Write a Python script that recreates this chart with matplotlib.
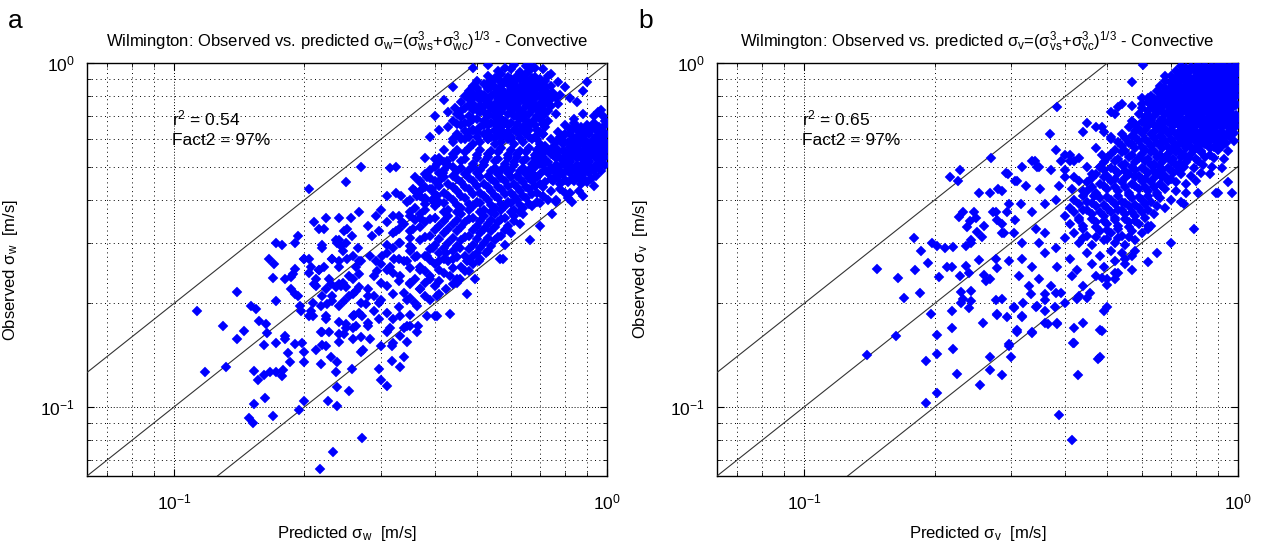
import matplotlib
matplotlib.use("Agg")
import matplotlib.pyplot as plt
import numpy as np
from matplotlib.ticker import FixedLocator, NullFormatter, LogLocator

plt.rcParams["font.family"] = ["Liberation Sans Narrow", "Liberation Sans", "DejaVu Sans"]
plt.rcParams["mathtext.fontset"] = "custom"
plt.rcParams["mathtext.rm"] = "Liberation Sans"
plt.rcParams["mathtext.it"] = "Liberation Sans:italic"
plt.rcParams["mathtext.default"] = "regular"

# (predicted, observed) pairs in m/s
# panel a: sigma_w
A_SPARSE = [
    (.205, .43), (.25, .45), (.113, .19), (.14, .216), (.13, .172), (.14, .158), (.145, .166), (.118, .126),
    (.132, .131), (.151, .197), (.155, .193), (.157, .178), (.163, .174), (.161, .151), (.164, .164), (.172, .154),
    (.172, .203), (.169, .237), (.166, .27), (.17, .26), (.172, .30), (.178, .296), (.153, .127), (.156, .12),
    (.161, .124), (.167, .126), (.172, .126), (.178, .123), (.179, .128), (.162, .106), (.153, .102), (.149, .093),
    (.152, .09), (.169, .094), (.18, .161), (.18, .158), (.183, .144), (.185, .135), (.19, .152), (.198, .154),
    (.2, .145), (.2, .135), (.2, .104), (.194, .098), (.18, .236), (.186, .239), (.188, .243), (.186, .22),
    (.19, .213), (.193, .21), (.195, .197), (.196, .19), (.19, .252), (.193, .315), (.19, .30), (.2, .27),
    (.205, .27), (.207, .256), (.205, .246), (.213, .236), (.216, .25), (.222, .255), (.22, .29), (.222, .33),
    (.241, .355), (.251, .33), (.256, .355), (.258, .315), (.241, .305), (.238, .30), (.243, .293), (.245, .285),
    (.232, .27), (.241, .265), (.251, .27), (.263, .256), (.27, .265), (.268, .243), (.259, .236), (.241, .228),
    (.237, .223), (.243, .225), (.25, .223), (.231, .228), (.224, .22), (.22, .21), (.226, .199), (.232, .203),
    (.247, .203), (.259, .213), (.263, .217), (.268, .223), (.277, .199), (.272, .184), (.263, .172), (.25, .174),
    (.241, .163), (.247, .163), (.259, .158), (.228, .165), (.224, .18), (.218, .165), (.22, .151), (.224, .15),
    (.213, .146), (.218, .133), (.231, .14), (.238, .135), (.237, .126), (.258, .129), (.238, .114), (.254, .111),
    (.227, .104), (.238, .101), (.27, .145), (.273, .146), (.272, .081), (.233, .074), (.217, .066), (.209, .184),
    (.207, .19), (.21, .228), (.218, .197), (.30, .12), (.31, .115), (.297, .129), (.332, .131), (.34, .14),
    (.318, .136), (.404, .184), (.433, .186), (.366, .172), (.345, .155), (.318, .15),
    (.27, .50), (.315, .495), (.326, .50), (.38, .53), (.40, .525), (.404, .51), (.31, .41), (.326, .42),
    (.335, .41), (.345, .395), (.356, .43), (.363, .41), (.37, .455), (.36, .465), (.384, .465), (.373, .43),
    (.394, .43), (.38, .40), (.394, .40), (.404, .41), (.41, .455), (.417, .48), (.426, .52), (.44, .50),
    (.45, .56), (.44, .60), (.46, .60), (.48, .63), (.445, .74), (.49, .85), (.49, .79), (.293, .36),
    (.30, .375), (.31, .345), (.32, .36), (.28, .335), (.268, .37), (.286, .315), (.298, .325), (.326, .325),
    (.336, .345), (.35, .36), (.356, .33), (.37, .355), (.332, .30), (.31, .295), (.21, .345), (.237, .305),
    (.247, .325), (.224, .355), (.216, .33), (.22, .295), (.20, .27), (.232, .27), (.25, .30), (.259, .275),
    (.266, .29), (.268, .265), (.283, .275), (.293, .265), (.302, .275), (.295, .248), (.315, .256), (.322, .27),
    (.332, .24), (.345, .265), (.354, .29), (.363, .275), (.37, .25), (.384, .275), (.396, .29), (.41, .265),
    (.425, .28), (.44, .27), (.457, .29), (.475, .265), (.49, .275), (.433, .24), (.457, .236), (.48, .248),
    (.505, .265), (.525, .28), (.565, .27), (.35, .23), (.37, .22), (.39, .236), (.404, .21), (.425, .22),
    (.45, .23), (.475, .213), (.495, .236), (.345, .205), (.363, .197), (.332, .184), (.35, .172), (.363, .165),
    (.384, .184), (.40, .184), (.31, .188), (.298, .20), (.28, .21), (.268, .188), (.254, .21), (.245, .23),
    (.254, .24), (.241, .256), (.228, .236), (.216, .25), (.213, .225), (.232, .21), (.241, .197), (.224, .184),
    (.241, .177), (.259, .184), (.28, .172), (.298, .18), (.315, .17), (.332, .161), (.259, .17), (.22, .165),
    (.283, .158), (.32, .154), (.345, .172), (.205, .184), (.209, .20),
    (.663, .305), (.575, .27), (.70, .335), (.745, .364), (.76, .395), (.88, .41), (.93, .44), (.83, .395),
    (.90, .88), (.95, .72), (.98, .70), (.85, .77), (.88, .83), (.663, .99),
]

A_MID = [
    (.42, .56), (.45, .555), (.48, .565), (.51, .56), (.54, .555), (.57, .565), (.60, .56), (.63, .555), (.66, .565), (.69, .56), (.72, .555),
    (.41, .53), (.44, .535), (.47, .525), (.50, .53), (.53, .535), (.56, .525), (.59, .53), (.62, .535), (.65, .525), (.68, .53),
    (.40, .50), (.43, .505), (.46, .495), (.49, .50), (.52, .505), (.55, .495), (.58, .50), (.61, .505), (.64, .495),
    (.38, .475), (.41, .48), (.44, .47), (.47, .475), (.50, .48), (.53, .47), (.56, .475), (.59, .48), (.62, .47), (.65, .475), (.67, .48),
    (.37, .45), (.40, .455), (.43, .445), (.46, .45), (.49, .455), (.52, .445), (.55, .45), (.58, .455), (.61, .445), (.64, .45), (.67, .455), (.70, .445),
    (.36, .425), (.39, .43), (.42, .42), (.45, .425), (.48, .43), (.51, .42), (.54, .425), (.57, .43), (.60, .42), (.63, .425), (.66, .43), (.69, .42),
    (.35, .40), (.38, .405), (.41, .395), (.44, .40), (.47, .405), (.50, .395), (.53, .40), (.56, .405), (.59, .395), (.62, .40), (.65, .405), (.69, .395), (.73, .40),
    (.36, .38), (.40, .385), (.43, .375), (.46, .38), (.49, .385), (.52, .375), (.55, .38), (.58, .385), (.61, .375), (.64, .38), (.67, .385),
    (.33, .36), (.37, .365), (.40, .355), (.43, .36), (.46, .365), (.49, .355), (.52, .36), (.55, .365), (.58, .355), (.61, .36), (.64, .365),
    (.34, .34), (.38, .345), (.41, .335), (.44, .34), (.47, .345), (.50, .335), (.53, .34), (.56, .345), (.59, .335), (.63, .34),
    (.32, .32), (.35, .325), (.39, .315), (.42, .32), (.45, .325), (.48, .315), (.51, .32), (.54, .325), (.57, .315), (.60, .32),
    (.33, .30), (.37, .305), (.40, .295), (.43, .30), (.46, .305), (.49, .295), (.52, .30), (.55, .305), (.58, .295),
    (.31, .28), (.35, .285), (.38, .275), (.41, .28), (.44, .285), (.47, .275), (.50, .28), (.53, .285),
    (.30, .26), (.34, .265), (.37, .255), (.40, .26), (.43, .265), (.46, .255), (.49, .26),
    (.29, .24), (.32, .245), (.36, .235), (.39, .24), (.42, .245), (.45, .235),
    (.28, .22), (.31, .225), (.34, .215), (.37, .22), (.40, .225),
    (.27, .20), (.30, .205), (.33, .195), (.36, .20), (.39, .205),
    (.26, .185), (.29, .19), (.32, .18), (.35, .185),
    (.25, .17), (.28, .175), (.31, .165), (.34, .17),
    (.24, .155), (.27, .16), (.30, .15),
]

A_MID_FILL = [
    (.44, .545), (.47, .55), (.50, .54), (.53, .545), (.56, .55), (.59, .54), (.62, .545), (.65, .55), (.68, .54),
    (.42, .515), (.46, .52), (.49, .51), (.52, .515), (.55, .52), (.58, .51), (.61, .515), (.64, .52), (.67, .51),
    (.39, .488), (.42, .49), (.45, .485), (.48, .488), (.51, .49), (.54, .485), (.57, .488), (.60, .49), (.63, .485), (.66, .488),
    (.39, .462), (.42, .465), (.45, .46), (.48, .462), (.51, .465), (.54, .46), (.57, .462), (.60, .465), (.63, .46), (.66, .462), (.69, .465),
    (.38, .437), (.41, .44), (.44, .435), (.47, .437), (.50, .44), (.53, .435), (.56, .437), (.59, .44), (.62, .435), (.65, .437), (.68, .44), (.71, .435),
    (.37, .412), (.40, .415), (.43, .41), (.46, .412), (.49, .415), (.52, .41), (.55, .412), (.58, .415), (.61, .41), (.64, .412), (.67, .415), (.71, .41),
    (.38, .39), (.42, .393), (.45, .388), (.48, .39), (.51, .393), (.54, .388), (.57, .39), (.60, .393), (.63, .388), (.66, .39), (.70, .393),
    (.35, .37), (.38, .373), (.42, .368), (.45, .37), (.48, .373), (.51, .368), (.54, .37), (.57, .373), (.60, .368), (.63, .37),
    (.36, .35), (.39, .353), (.42, .348), (.45, .35), (.48, .353), (.51, .348), (.54, .35), (.57, .353), (.61, .348),
    (.33, .33), (.37, .333), (.40, .328), (.43, .33), (.46, .333), (.49, .328), (.52, .33), (.55, .333), (.58, .328),
    (.35, .31), (.38, .313), (.41, .308), (.44, .31), (.47, .313), (.50, .308), (.53, .31), (.56, .313),
    (.32, .29), (.35, .293), (.39, .288), (.42, .29), (.45, .293), (.48, .288), (.51, .29), (.54, .293),
    (.33, .27), (.36, .273), (.39, .268), (.42, .27), (.45, .273), (.48, .268), (.51, .27),
    (.31, .25), (.35, .253), (.38, .248), (.41, .25), (.44, .253), (.47, .248),
    (.30, .23), (.33, .233), (.35, .228), (.38, .23), (.41, .233), (.44, .228),
    (.29, .21), (.32, .213), (.35, .208), (.38, .21), (.41, .213),
]

A_BLOB = [
    (.56, .95), (.60, .96), (.63, .94), (.66, .95), (.71, .96), (.58, .97), (.68, .97),
    (.53, .92), (.57, .93), (.59, .91), (.62, .92), (.65, .93), (.68, .91), (.73, .92),
    (.50, .89), (.54, .88), (.56, .90), (.58, .89), (.61, .88), (.63, .90), (.66, .89), (.69, .88), (.72, .89),
    (.49, .86), (.52, .87), (.55, .85), (.57, .86), (.59, .87), (.62, .85), (.64, .86), (.67, .87), (.70, .85), (.74, .86),
    (.48, .83), (.51, .82), (.53, .84), (.56, .83), (.58, .82), (.60, .84), (.62, .83), (.65, .82), (.68, .84), (.71, .83), (.75, .82),
    (.47, .80), (.50, .81), (.52, .79), (.54, .80), (.57, .81), (.59, .79), (.61, .80), (.63, .81), (.66, .79), (.69, .80), (.72, .81), (.76, .79),
    (.46, .77), (.49, .76), (.51, .78), (.53, .77), (.55, .76), (.58, .78), (.60, .77), (.62, .76), (.64, .78), (.67, .77), (.70, .76), (.73, .78), (.77, .76),
    (.47, .74), (.50, .73), (.52, .75), (.54, .74), (.56, .73), (.58, .75), (.61, .74), (.63, .73), (.65, .75), (.68, .74), (.71, .73), (.74, .75),
    (.45, .71), (.48, .70), (.51, .72), (.53, .71), (.55, .70), (.57, .72), (.59, .71), (.62, .70), (.64, .72), (.66, .71), (.69, .70), (.72, .72), (.76, .71),
    (.44, .68), (.47, .67), (.50, .69), (.52, .68), (.54, .67), (.56, .69), (.58, .68), (.60, .67), (.63, .69), (.65, .68), (.67, .67), (.70, .69), (.73, .68),
    (.43, .65), (.46, .66), (.49, .64), (.51, .65), (.53, .66), (.55, .64), (.57, .65), (.59, .66), (.61, .64), (.64, .65), (.66, .66), (.69, .64), (.72, .65),
    (.45, .62), (.48, .61), (.50, .63), (.52, .62), (.54, .61), (.56, .63), (.58, .62), (.60, .61), (.62, .63), (.65, .62), (.68, .61), (.71, .62),
    (.44, .59), (.47, .60), (.49, .58), (.51, .59), (.53, .60), (.55, .58), (.57, .59), (.59, .60), (.61, .58), (.64, .59), (.67, .60), (.70, .58),
    (.49, .97), (.53, .99), (.61, .99), (.65, .98), (.74, .93), (.77, .88), (.80, .85), (.78, .81), (.82, .79),
    (.44, .85), (.42, .78), (.43, .72), (.40, .70), (.41, .64), (.39, .61), (.69, .60), (.71, .62), (.70, .57),
]

A_BLOB_FILL = [
    (.55, .905), (.60, .90), (.64, .91), (.67, .905), (.70, .90),
    (.53, .875), (.57, .88), (.60, .87), (.65, .875), (.68, .88), (.71, .87),
    (.50, .845), (.54, .85), (.57, .84), (.61, .845), (.63, .85), (.66, .84), (.69, .845), (.72, .85),
    (.49, .815), (.52, .81), (.55, .82), (.59, .815), (.61, .81), (.64, .82), (.67, .815), (.70, .81), (.73, .82),
    (.48, .785), (.51, .79), (.53, .78), (.56, .785), (.60, .79), (.62, .78), (.65, .785), (.68, .79), (.71, .78), (.74, .785),
    (.48, .755), (.51, .75), (.53, .76), (.57, .755), (.59, .75), (.62, .76), (.66, .755), (.69, .75), (.72, .76),
    (.46, .725), (.49, .73), (.52, .72), (.55, .725), (.57, .73), (.60, .72), (.63, .725), (.67, .73), (.70, .72), (.73, .725),
    (.46, .695), (.49, .69), (.53, .70), (.55, .695), (.57, .69), (.61, .70), (.64, .695), (.68, .69), (.71, .70),
    (.45, .665), (.48, .67), (.52, .66), (.55, .665), (.57, .67), (.59, .66), (.62, .665), (.66, .67), (.68, .66), (.71, .665),
    (.47, .635), (.49, .64), (.53, .63), (.55, .635), (.57, .64), (.59, .63), (.63, .635), (.66, .64), (.70, .63),
    (.46, .605), (.50, .61), (.53, .60), (.55, .605), (.57, .61), (.60, .60), (.63, .605), (.66, .61),
]

A_BAND = [
    (.80, .66), (.84, .67), (.87, .65), (.90, .66), (.93, .67), (.96, .65), (.99, .66),
    (.77, .63), (.80, .62), (.83, .64), (.86, .63), (.89, .62), (.92, .64), (.95, .63), (.98, .62),
    (.74, .60), (.78, .61), (.81, .59), (.84, .60), (.87, .61), (.90, .59), (.93, .60), (.96, .61), (.99, .59),
    (.72, .575), (.75, .57), (.79, .58), (.82, .57), (.85, .575), (.88, .58), (.91, .57), (.94, .575), (.97, .58), (.995, .57),
    (.70, .55), (.74, .545), (.77, .555), (.80, .55), (.83, .545), (.86, .555), (.89, .55), (.92, .545), (.95, .555), (.98, .55),
    (.69, .525), (.72, .52), (.76, .53), (.79, .525), (.82, .52), (.85, .53), (.88, .525), (.91, .52), (.94, .53), (.97, .525),
    (.68, .50), (.71, .505), (.74, .495), (.77, .50), (.80, .505), (.83, .495), (.86, .50), (.89, .505), (.92, .495), (.96, .50), (.99, .505),
    (.70, .475), (.73, .48), (.76, .47), (.79, .475), (.82, .48), (.85, .47), (.88, .475), (.91, .48), (.94, .47),
    (.72, .45), (.75, .455), (.78, .445), (.81, .45), (.84, .455), (.87, .445), (.90, .45),
    (.74, .425), (.78, .43), (.82, .42), (.86, .425), (.76, .40), (.81, .405),
    (.93, .70), (.97, .73), (.88, .71), (.84, .69), (.99, .68), (.80, .42),
    (.82, .645), (.85, .65), (.88, .64), (.91, .645), (.94, .65), (.97, .64),
    (.79, .615), (.82, .62), (.85, .61), (.88, .615), (.91, .62), (.94, .61), (.97, .615), (.995, .62),
    (.76, .59), (.79, .595), (.83, .585), (.86, .59), (.89, .595), (.92, .585), (.95, .59), (.98, .595),
    (.73, .56), (.76, .565), (.79, .555), (.82, .56), (.85, .565), (.88, .555), (.91, .56), (.94, .565), (.97, .555), (.995, .56),
    (.71, .535), (.75, .54), (.78, .53), (.81, .535), (.84, .54), (.87, .53), (.90, .535), (.93, .54), (.96, .53), (.99, .535),
    (.70, .51), (.73, .515), (.76, .505), (.79, .51), (.82, .515), (.85, .505), (.88, .51), (.91, .515), (.94, .505), (.97, .51),
    (.72, .488), (.75, .49), (.78, .485), (.81, .488), (.84, .49), (.87, .485), (.90, .488), (.93, .49), (.97, .485),
    (.74, .46), (.77, .465), (.80, .458), (.83, .46), (.86, .465), (.89, .458), (.92, .46),
]

# panel b: sigma_v
B_SPARSE = [
    (.179, .31), (.147, .252), (.165, .237), (.17, .207), (.18, .25), (.186, .284), (.185, .214), (.193, .262),
    (.197, .30), (.202, .293), (.196, .186), (.163, .161), (.14, .142), (.191, .136), (.202, .11), (.191, .103),
    (.202, .162), (.203, .143), (.211, .289), (.213, .255), (.219, .255), (.22, .292), (.205, .239), (.219, .19),
    (.219, .17), (.22, .147), (.225, .125), (.23, .216), (.23, .20), (.229, .24), (.233, .206), (.24, .194),
    (.243, .217), (.243, .204), (.236, .257), (.24, .245), (.258, .175), (.255, .116), (.268, .128), (.268, .14),
    (.286, .124), (.278, .186), (.286, .206), (.278, .254), (.263, .233), (.268, .236), (.26, .242), (.236, .293),
    (.242, .30), (.243, .305), (.238, .334), (.241, .348), (.249, .354), (.25, .323), (.257, .312), (.26, .335),
    (.232, .37), (.246, .37), (.227, .356), (.253, .42), (.268, .42), (.28, .43), (.273, .37), (.278, .35),
    (.286, .34), (.289, .32), (.229, .49), (.217, .466), (.226, .455), (.27, .53), (.292, .48), (.253, .268),
    (.383, .745), (.57, .88), (.605, .99), (.45, .67), (.368, .62), (.335, .52), (.318, .50), (.348, .50),
    (.38, .56), (.40, .54), (.41, .52), (.43, .53), (.44, .63), (.47, .65), (.49, .63), (.51, .60),
    (.52, .71), (.54, .76), (.57, .75), (.60, .76), (.60, .79), (.286, .425), (.31, .455), (.325, .44),
    (.35, .43), (.296, .39), (.316, .39), (.277, .37), (.293, .37), (.307, .35), (.335, .37), (.36, .39),
    (.38, .40), (.387, .44), (.40, .49), (.42, .465), (.286, .32), (.305, .32), (.318, .30), (.342, .33),
    (.348, .30), (.36, .32), (.38, .29), (.40, .31), (.277, .27), (.296, .265), (.318, .27), (.335, .255),
    (.36, .28), (.383, .255), (.41, .27), (.425, .25), (.313, .24), (.33, .225), (.348, .235), (.37, .225),
    (.39, .215), (.415, .24), (.44, .225), (.455, .215), (.277, .205), (.305, .195), (.32, .20), (.342, .195),
    (.36, .205), (.40, .20), (.43, .21), (.278, .185), (.293, .183), (.318, .183), (.36, .176), (.383, .176),
    (.42, .17), (.31, .167), (.335, .165), (.42, .153), (.48, .167), (.49, .19), (.48, .14), (.296, .15),
    (.30, .14), (.45, .208), (.485, .237), (.52, .245), (.57, .25), (.62, .264), (.65, .28), (.70, .30),
    (.79, .33), (.81, .42), (.90, .42), (.95, .45), (.97, .42), (.58, .285), (.62, .33), (.63, .335),
    (.55, .27), (.52, .235), (.295, .475), (.307, .455), (.34, .52), (.345, .50), (.62, .79), (.53, .745),
    (.51, .72), (.485, .65), (.51, .61), (.47, .565), (.485, .54), (.41, .54), (.39, .52), (.42, .52),
    (.45, .50), (.37, .49), (.40, .465), (.43, .455), (.46, .475), (.48, .50), (.415, .43), (.45, .425),
    (.465, .41), (.89, .42), (.75, .39), (.68, .92), (.296, .152), (.305, .194), (.31, .165), (.318, .184),
    (.336, .164), (.344, .196), (.36, .19), (.365, .174), (.383, .174), (.378, .195), (.387, .095), (.415, .08),
    (.416, .153), (.427, .124), (.425, .206), (.476, .138), (.485, .166), (.50, .195), (.50, .226), (.36, .213),
    (.333, .213), (.44, .176), (.38, .215),
]

B_CORE = [
    (.74, .98), (.78, .975), (.81, .985), (.84, .98), (.87, .975), (.90, .985), (.93, .98), (.96, .975), (.99, .985),
    (.72, .95), (.75, .945), (.79, .955), (.82, .95), (.85, .945), (.88, .955), (.91, .95), (.94, .945), (.97, .955), (.995, .95),
    (.70, .92), (.73, .915), (.76, .925), (.80, .92), (.83, .915), (.86, .925), (.89, .92), (.92, .915), (.95, .925), (.98, .92),
    (.68, .89), (.71, .885), (.75, .895), (.78, .89), (.81, .885), (.84, .895), (.87, .89), (.90, .885), (.93, .895), (.96, .89), (.99, .885),
    (.66, .86), (.70, .855), (.73, .865), (.76, .86), (.79, .855), (.82, .865), (.85, .86), (.88, .855), (.91, .865), (.94, .86), (.97, .855),
    (.65, .83), (.68, .825), (.71, .835), (.74, .83), (.77, .825), (.80, .835), (.83, .83), (.86, .825), (.89, .835), (.92, .83), (.95, .825), (.99, .835),
    (.63, .80), (.66, .795), (.69, .805), (.72, .80), (.75, .795), (.78, .805), (.81, .80), (.84, .795), (.87, .805), (.90, .80), (.93, .795), (.96, .805), (.99, .80),
    (.62, .77), (.65, .765), (.68, .775), (.71, .77), (.74, .765), (.77, .775), (.80, .77), (.83, .765), (.86, .775), (.89, .77), (.92, .765), (.95, .775), (.98, .77),
    (.60, .74), (.64, .735), (.67, .745), (.70, .74), (.73, .735), (.76, .745), (.79, .74), (.82, .735), (.85, .745), (.88, .74), (.91, .735), (.94, .745), (.97, .74),
    (.59, .71), (.62, .705), (.65, .715), (.68, .71), (.71, .705), (.74, .715), (.77, .71), (.80, .705), (.83, .715), (.86, .71), (.89, .705), (.92, .715), (.95, .71), (.99, .705),
    (.57, .68), (.60, .675), (.63, .685), (.66, .68), (.69, .675), (.72, .685), (.75, .68), (.78, .675), (.81, .685), (.84, .68), (.87, .675), (.90, .685), (.93, .68), (.96, .675), (.99, .685),
    (.56, .65), (.59, .645), (.62, .655), (.65, .65), (.68, .645), (.71, .655), (.74, .65), (.77, .645), (.80, .655), (.83, .65), (.86, .645), (.89, .655), (.92, .65), (.96, .645), (.99, .655),
    (.54, .62), (.57, .615), (.60, .625), (.63, .62), (.66, .615), (.69, .625), (.72, .62), (.75, .615), (.78, .625), (.81, .62), (.84, .615), (.87, .625), (.90, .62), (.94, .615), (.98, .625),
    (.53, .59), (.56, .585), (.59, .595), (.62, .59), (.65, .585), (.68, .595), (.71, .59), (.74, .585), (.77, .595), (.80, .59), (.83, .585), (.86, .595), (.90, .59), (.94, .585), (.98, .595),
    (.52, .56), (.55, .555), (.58, .565), (.61, .56), (.64, .555), (.67, .565), (.70, .56), (.73, .555), (.76, .565), (.79, .56), (.82, .555), (.86, .565), (.90, .56), (.95, .555),
    (.50, .53), (.53, .525), (.56, .535), (.59, .53), (.62, .525), (.65, .535), (.68, .53), (.71, .525), (.74, .535), (.77, .53), (.80, .525), (.84, .535), (.88, .53), (.93, .525),
    (.48, .50), (.51, .495), (.54, .505), (.57, .50), (.60, .495), (.63, .505), (.66, .50), (.69, .495), (.72, .505), (.75, .50), (.79, .495), (.83, .505), (.87, .50), (.92, .495),
    (.47, .475), (.50, .47), (.53, .48), (.56, .475), (.59, .47), (.62, .48), (.65, .475), (.68, .47), (.71, .48), (.74, .475), (.78, .47), (.82, .48), (.86, .475),
    (.45, .45), (.48, .445), (.51, .455), (.54, .45), (.57, .445), (.60, .455), (.63, .45), (.66, .445), (.69, .455), (.72, .45), (.76, .445), (.80, .455),
    (.44, .425), (.47, .42), (.50, .43), (.53, .425), (.56, .42), (.59, .43), (.62, .425), (.65, .42), (.68, .43), (.72, .425), (.76, .42),
    (.42, .40), (.45, .395), (.48, .405), (.51, .40), (.54, .395), (.57, .405), (.60, .40), (.63, .395), (.66, .405), (.70, .40), (.74, .395),
    (.41, .38), (.44, .375), (.47, .385), (.50, .38), (.53, .375), (.56, .385), (.59, .38), (.62, .375), (.65, .385), (.68, .38),
    (.40, .36), (.43, .355), (.46, .365), (.49, .36), (.52, .355), (.55, .365), (.58, .36), (.61, .355), (.64, .365),
    (.41, .34), (.44, .335), (.47, .345), (.50, .34), (.53, .335), (.56, .345), (.59, .34), (.62, .335),
    (.42, .32), (.45, .315), (.48, .325), (.51, .32), (.54, .315), (.57, .325), (.60, .32),
    (.43, .30), (.46, .295), (.49, .305), (.52, .30), (.55, .295), (.58, .305),
    (.45, .28), (.48, .275), (.51, .285), (.54, .28), (.57, .275),
    (.46, .26), (.49, .255), (.52, .265), (.55, .26),
    (.47, .24), (.50, .235), (.53, .245),
]

B_CORE_FILL = [
    (.76, .965), (.80, .96), (.83, .97), (.86, .965), (.89, .96), (.92, .97), (.95, .965), (.98, .96),
    (.74, .935), (.77, .94), (.81, .93), (.84, .935), (.87, .94), (.90, .93), (.93, .935), (.96, .94), (.99, .93),
    (.72, .905), (.75, .91), (.78, .90), (.82, .905), (.85, .91), (.88, .90), (.91, .905), (.94, .91), (.97, .90),
    (.70, .875), (.73, .88), (.77, .87), (.80, .875), (.83, .88), (.86, .87), (.89, .875), (.92, .88), (.95, .87), (.98, .875),
    (.68, .845), (.72, .85), (.75, .84), (.78, .845), (.81, .85), (.84, .84), (.87, .845), (.90, .85), (.93, .84), (.96, .845), (.99, .85),
    (.67, .815), (.70, .82), (.73, .81), (.76, .815), (.79, .82), (.82, .81), (.85, .815), (.88, .82), (.91, .81), (.94, .815), (.97, .82),
    (.64, .785), (.67, .79), (.70, .78), (.73, .785), (.76, .79), (.79, .78), (.82, .785), (.85, .79), (.88, .78), (.91, .785), (.94, .79), (.97, .78),
    (.63, .755), (.66, .76), (.69, .75), (.72, .755), (.75, .76), (.78, .75), (.81, .755), (.84, .76), (.87, .75), (.90, .755), (.93, .76), (.96, .75), (.99, .755),
    (.62, .725), (.66, .73), (.69, .72), (.72, .725), (.75, .73), (.78, .72), (.81, .725), (.84, .73), (.87, .72), (.90, .725), (.93, .73), (.96, .72),
    (.61, .695), (.64, .70), (.67, .69), (.70, .695), (.73, .70), (.76, .69), (.79, .695), (.82, .70), (.85, .69), (.88, .695), (.91, .70), (.94, .69), (.97, .695),
    (.58, .665), (.61, .67), (.64, .66), (.67, .665), (.70, .67), (.73, .66), (.76, .665), (.79, .67), (.82, .66), (.85, .665), (.88, .67), (.91, .66), (.94, .665), (.97, .67),
    (.58, .635), (.61, .64), (.64, .63), (.67, .635), (.70, .64), (.73, .63), (.76, .635), (.79, .64), (.82, .63), (.85, .635), (.88, .64), (.92, .63), (.96, .635),
    (.55, .605), (.58, .61), (.61, .60), (.64, .605), (.67, .61), (.70, .60), (.73, .605), (.76, .61), (.79, .60), (.82, .605), (.85, .61), (.88, .60), (.92, .605), (.96, .61),
    (.54, .575), (.57, .58), (.60, .57), (.63, .575), (.66, .58), (.69, .57), (.72, .575), (.75, .58), (.78, .57), (.81, .575), (.84, .58), (.88, .57), (.92, .575),
    (.51, .545), (.54, .55), (.57, .54), (.60, .545), (.63, .55), (.66, .54), (.69, .545), (.72, .55), (.75, .54), (.78, .545), (.82, .55), (.86, .54),
    (.49, .515), (.52, .52), (.55, .51), (.58, .515), (.61, .52), (.64, .51), (.67, .515), (.70, .52), (.73, .51), (.76, .515), (.81, .52),
    (.49, .488), (.52, .49), (.55, .485), (.58, .488), (.61, .49), (.64, .485), (.67, .488), (.70, .49), (.73, .485),
    (.46, .462), (.49, .465), (.52, .46), (.55, .462), (.58, .465), (.61, .46), (.64, .462), (.67, .465), (.70, .46),
    (.46, .437), (.49, .44), (.52, .435), (.55, .437), (.58, .44), (.61, .435), (.64, .437), (.67, .44),
    (.44, .41), (.47, .413), (.50, .408), (.53, .41), (.56, .413), (.59, .408), (.62, .41), (.65, .413),
    (.43, .39), (.46, .393), (.49, .388), (.52, .39), (.55, .393), (.58, .388), (.61, .39),
    (.42, .37), (.45, .373), (.48, .368), (.51, .37), (.54, .373), (.57, .368), (.60, .37),
    (.43, .35), (.46, .353), (.49, .348), (.52, .35), (.55, .353), (.58, .348),
    (.44, .33), (.47, .333), (.50, .328), (.53, .33), (.56, .333),
    (.44, .31), (.47, .313), (.50, .308), (.53, .31), (.56, .313),
]

PANELS = ["a", "b"]
COMPONENT = ["w", "v"]
R2 = [0.54, 0.65]
FACT2 = [97, 97]
LIMITS = (0.063, 1.0)
RATIOS = [0.5, 1.0, 2.0]


def setup_axes(ax, comp):
    ax.set_xscale("log")
    ax.set_yscale("log")
    ax.set_xlim(*LIMITS)
    ax.set_ylim(*LIMITS)
    for axis in (ax.xaxis, ax.yaxis):
        axis.set_major_locator(FixedLocator([0.1, 1.0]))
        axis.set_minor_locator(LogLocator(base=10, subs=np.arange(2, 10)))
        axis.set_minor_formatter(NullFormatter())
    ax.grid(True, which="major", color="k", linestyle=(0, (1, 2)), linewidth=0.7)
    ax.grid(True, which="minor", color="k", linestyle=(0, (1, 3.5)), linewidth=0.7)
    ax.tick_params(which="both", direction="in", top=True, right=True, labelsize=12.5)
    ax.tick_params(axis="x", which="major", pad=12)
    ax.tick_params(axis="y", which="major", pad=9)
    ax.tick_params(which="major", length=5)
    ax.tick_params(which="minor", length=3)
    for spine in ax.spines.values():
        spine.set_linewidth(1.0)
    ax.set_xlabel(rf"Predicted $\sigma_{comp}$  [m/s]", fontsize=12, labelpad=8)
    ax.set_ylabel(rf"Observed $\sigma_{comp}$  [m/s]", fontsize=12, labelpad=14)
    ax.set_title(
        rf"Wilmington: Observed vs. predicted $\sigma_{comp}$=$(\sigma^3_{{{comp}s}}$+$\sigma^3_{{{comp}c}})^{{1/3}}$ - Convective",
        fontsize=12, pad=12,
    )


def main():
    fig = plt.figure(figsize=(12.61, 5.44), dpi=100)
    fig.patch.set_facecolor("white")
    rects = [[0.069, 0.125, 0.4125, 0.759], [0.5686, 0.125, 0.4131, 0.759]]
    data = [
        A_SPARSE + A_MID + A_MID_FILL + A_BLOB + A_BLOB_FILL + A_BAND,
        B_SPARSE + B_CORE + B_CORE_FILL,
    ]
    ref = np.array([0.01, 10.0])
    for i, rect in enumerate(rects):
        ax = fig.add_axes(rect)
        comp = COMPONENT[i]
        setup_axes(ax, comp)
        pred, obs = np.array(data[i]).T
        for r in RATIOS:
            ax.plot(ref, ref * r, color="#333333", linewidth=0.8, zorder=3)
        ax.plot(pred, obs, linestyle="none", marker="D", markersize=4.7,
                markerfacecolor="#0000ff", markeredgecolor="#0000ff", markeredgewidth=0.3, zorder=4)
        ax.text(0.163, 0.865, rf"r$^2$ = {R2[i]:.2f}", transform=ax.transAxes, fontsize=12.5, va="center")
        ax.text(0.163, 0.812, f"Fact2 = {FACT2[i]}%", transform=ax.transAxes, fontsize=12.5, va="center")
        fig.text(0.006 + 0.5 * i, 0.962, PANELS[i], fontsize=19, va="center")
    fig.savefig("out.png", dpi=100, facecolor="white")


if __name__ == "__main__":
    main()
